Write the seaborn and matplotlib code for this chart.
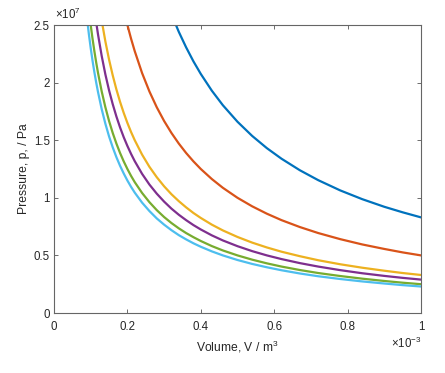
import numpy as np
import pandas as pd
import matplotlib
matplotlib.use("Agg")
import matplotlib.pyplot as plt
import seaborn as sns

# Volume values (in units of 1e-3 m^3)
volume = [0.085, 0.09, 0.095, 0.10, 0.105, 0.11, 0.115, 0.12, 0.13, 0.14, 0.15, 0.16,
          0.17, 0.18, 0.19, 0.20, 0.21, 0.22, 0.24, 0.26, 0.28, 0.30, 0.32, 0.34,
          0.36, 0.38, 0.40, 0.43, 0.46, 0.50, 0.54, 0.58, 0.62, 0.67, 0.72, 0.78,
          0.84, 0.90, 0.95, 1.00]

# Pressure values (in units of 1e7 Pa)
p_blue = [9.765, 9.222, 8.737, 8.300, 7.905, 7.545, 7.218, 6.917, 6.384, 5.929,
          5.533, 5.188, 4.882, 4.611, 4.368, 4.150, 3.952, 3.772, 3.458, 3.192,
          2.964, 2.767, 2.594, 2.441, 2.306, 2.184, 2.075, 1.930, 1.804, 1.660,
          1.537, 1.431, 1.339, 1.239, 1.153, 1.064, 0.988, 0.922, 0.874, 0.830]
p_red = [5.882, 5.556, 5.263, 5.000, 4.762, 4.545, 4.348, 4.167, 3.846, 3.571,
         3.333, 3.125, 2.941, 2.778, 2.632, 2.500, 2.381, 2.273, 2.083, 1.923,
         1.786, 1.667, 1.563, 1.471, 1.389, 1.316, 1.250, 1.163, 1.087, 1.000,
         0.926, 0.862, 0.806, 0.746, 0.694, 0.641, 0.595, 0.556, 0.526, 0.500]
p_yellow = [3.882, 3.667, 3.474, 3.300, 3.143, 3.000, 2.870, 2.750, 2.538, 2.357,
            2.200, 2.063, 1.941, 1.833, 1.737, 1.650, 1.571, 1.500, 1.375, 1.269,
            1.179, 1.100, 1.031, 0.971, 0.917, 0.868, 0.825, 0.767, 0.717, 0.660,
            0.611, 0.569, 0.532, 0.493, 0.458, 0.423, 0.393, 0.367, 0.347, 0.330]
p_purple = [3.412, 3.222, 3.053, 2.900, 2.762, 2.636, 2.522, 2.417, 2.231, 2.071,
            1.933, 1.813, 1.706, 1.611, 1.526, 1.450, 1.381, 1.318, 1.208, 1.115,
            1.036, 0.967, 0.906, 0.853, 0.806, 0.763, 0.725, 0.674, 0.630, 0.580,
            0.537, 0.500, 0.468, 0.433, 0.403, 0.372, 0.345, 0.322, 0.305, 0.290]
p_green = [2.941, 2.778, 2.632, 2.500, 2.381, 2.273, 2.174, 2.083, 1.923, 1.786,
           1.667, 1.563, 1.471, 1.389, 1.316, 1.250, 1.190, 1.136, 1.042, 0.962,
           0.893, 0.833, 0.781, 0.735, 0.694, 0.658, 0.625, 0.581, 0.543, 0.500,
           0.463, 0.431, 0.403, 0.373, 0.347, 0.321, 0.298, 0.278, 0.263, 0.250]
p_cyan = [2.706, 2.556, 2.421, 2.300, 2.190, 2.091, 2.000, 1.917, 1.769, 1.643,
          1.533, 1.438, 1.353, 1.278, 1.211, 1.150, 1.095, 1.045, 0.958, 0.885,
          0.821, 0.767, 0.719, 0.676, 0.639, 0.605, 0.575, 0.535, 0.500, 0.460,
          0.426, 0.397, 0.371, 0.343, 0.319, 0.295, 0.274, 0.256, 0.242, 0.230]

series_names = ["c1", "c2", "c3", "c4", "c5", "c6"]
series_values = [p_blue, p_red, p_yellow, p_purple, p_green, p_cyan]
colors = ["#0072BD", "#D95319", "#EDB120", "#7E2F8E", "#77AC30", "#4DBEEE"]

x_ticks = [0, 0.2, 0.4, 0.6, 0.8, 1]
x_tick_labels = ["0", "0.2", "0.4", "0.6", "0.8", "1"]
y_ticks = [0, 0.5, 1, 1.5, 2, 2.5]
y_tick_labels = ["0", "0.5", "1", "1.5", "2", "2.5"]

rows = []
for name, vals in zip(series_names, series_values):
    for v, p in zip(volume, vals):
        rows.append({"V": v, "p": p, "s": name})
df = pd.DataFrame(rows)

sns.set_style("white")
plt.rcParams["font.family"] = ["Liberation Sans", "DejaVu Sans"]
plt.rcParams["mathtext.fontset"] = "custom"
plt.rcParams["mathtext.rm"] = "Liberation Sans"

fig = plt.figure(figsize=(4.45, 3.73), dpi=100)
ax = fig.add_axes([54 / 445, 1 - 313 / 373, (421 - 54) / 445, (313 - 25) / 373])

sns.lineplot(data=df, x="V", y="p", hue="s", palette=colors, hue_order=series_names,
             linewidth=1.6, legend=False, ax=ax, sort=False)

ax.set_xlim(0, 1)
ax.set_ylim(0, 2.5)
tc = "#262626"
ax.set_xticks(x_ticks)
ax.set_xticklabels(x_tick_labels)
ax.set_yticks(y_ticks)
ax.set_yticklabels(y_tick_labels)
ax.tick_params(direction="in", length=3, width=0.6, color="#555555", labelsize=8.3,
               labelcolor=tc, top=True, right=True, bottom=True, left=True, pad=3)
ax.tick_params(axis="x", pad=6)
for sp in ax.spines.values():
    sp.set_color("#666666")
    sp.set_linewidth(0.8)
ax.set_xlabel("Volume, V / m$^3$", fontsize=8.7, color=tc, labelpad=4)
ax.set_ylabel("Pressure, p, / Pa", fontsize=8.7, color=tc, labelpad=3)

fig.text(55 / 445, 1 - 19 / 373, r"$\times10^{7}$", fontsize=8.3, color=tc,
         ha="left", va="baseline")
fig.text(421 / 445, 1 - 348 / 373, r"$\times10^{-3}$", fontsize=8.3, color=tc,
         ha="right", va="baseline")

fig.savefig("out.png", dpi=100)
